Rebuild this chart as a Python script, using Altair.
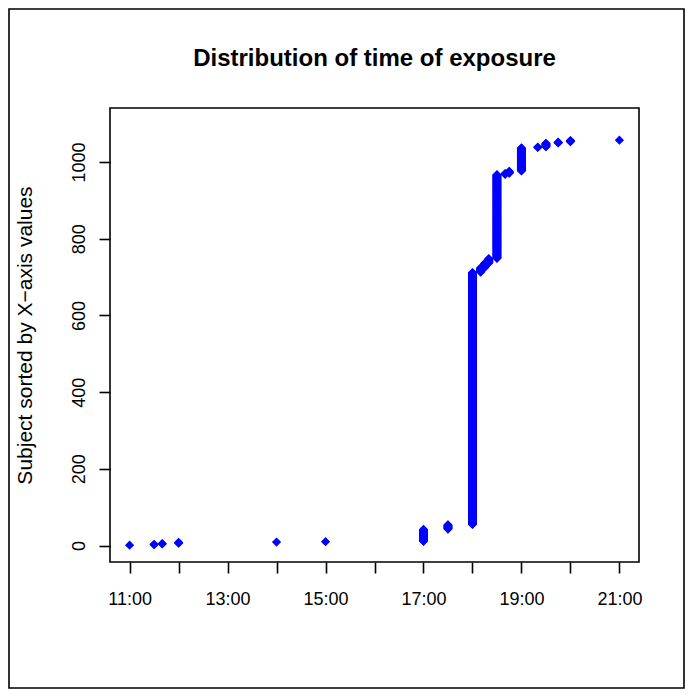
import altair as alt
import pandas as pd

# Exposure times (HH:MM) and number of subjects at each time, in sorted order
times = ["11:00", "11:30", "11:40", "12:00", "14:00", "15:00", "17:00", "17:30",
         "18:00", "18:10", "18:15", "18:20", "18:30", "18:40", "18:45", "19:00",
         "19:20", "19:30", "19:45", "20:00", "21:00"]
counts = [1, 2, 2, 3, 1, 1, 32, 12, 658, 12, 12, 12, 219, 3, 6, 61, 2, 10, 3, 4, 1]

x_ticks = [11, 12, 13, 14, 15, 16, 17, 18, 19, 20, 21]
y_ticks = [0, 200, 400, 600, 800, 1000]

title_text = "Distribution of time of exposure"
y_title = "Subject sorted by X\u2212axis values"

rows = []
idx = 0
for t, c in zip(times, counts):
    h, m = t.split(":")
    hour = int(h) + int(m) / 60.0
    for _ in range(c):
        idx += 1
        rows.append({"time": hour, "subject": idx})
df = pd.DataFrame(rows)

FONT = "Liberation Sans"
W, H = 529, 454
PL, PT, PR, PB = 102, 100, 46, 127

points = alt.Chart(df).mark_point(
    shape="diamond", filled=True, size=85, color="#0000FF", opacity=1, strokeWidth=0
).encode(
    x=alt.X("time:Q",
            scale=alt.Scale(domain=[10.6, 21.4], nice=False, zero=False),
            axis=alt.Axis(values=x_ticks, title=None, grid=False, domain=False,
                          tickColor="black", tickWidth=1.6, tickSize=11,
                          labelExpr="datum.value % 2 == 1 ? datum.value + ':00' : ''",
                          labelFont=FONT, labelFontSize=18, labelColor="black",
                          labelBaseline="alphabetic", labelPadding=31,
                          labelFlush=False, labelOverlap=False)),
    y=alt.Y("subject:Q",
            scale=alt.Scale(domain=[-43, 1141], nice=False, zero=False),
            axis=alt.Axis(values=y_ticks, format="d", grid=False, domain=False,
                          tickColor="black", tickWidth=1.6, tickSize=11,
                          labelFont=FONT, labelFontSize=18, labelColor="black",
                          labelAngle=-90, labelAlign="center",
                          labelBaseline="alphabetic", labelPadding=15,
                          labelFlush=False, labelOverlap=False,
                          title=y_title,
                          titleFont=FONT, titleFontSize=21, titleFontWeight="normal",
                          titleColor="black", titleAngle=-90, titleAlign="center",
                          titleBaseline="alphabetic", titleX=-79, titleY=H / 2)),
)

title = alt.Chart(alt.Data(values=[{}])).mark_text(
    font=FONT, fontSize=24, fontWeight="bold", color="black",
    align="center", baseline="alphabetic"
).encode(
    x=alt.value(W / 2), y=alt.value(-42), text=alt.value(title_text)
)

border = alt.Chart(alt.Data(values=[{}])).mark_rect(
    fill=None, stroke="black", strokeWidth=1.6
).encode(
    x=alt.value(-PL + 1), x2=alt.value(W + PR - 1),
    y=alt.value(-PT + 1), y2=alt.value(H + PB - 1),
)

chart = alt.layer(points, title, border).properties(
    width=W, height=H,
    autosize=alt.AutoSizeParams(type="none"),
    padding={"left": PL, "top": PT, "right": PR, "bottom": PB},
    background="white",
).configure_view(stroke="black", strokeWidth=1.6)

chart.save("out.html", embed_options={"renderer": "svg", "actions": False})
